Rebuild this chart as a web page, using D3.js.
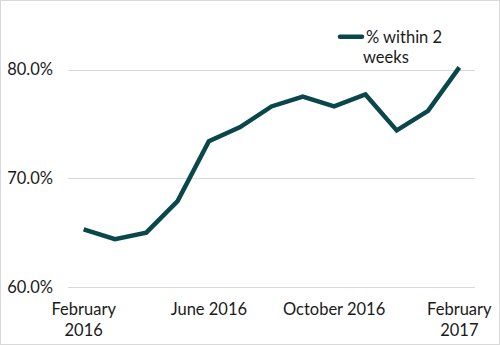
<!DOCTYPE html>
<html><head><meta charset="utf-8">
<script src="https://cdn.jsdelivr.net/npm/d3@7"></script>
<style>
body{margin:0;background:#fff;}
svg{display:block;font-family:Lato,"Open Sans",sans-serif;}
</style></head>
<body>
<svg id="chart" width="500" height="345"></svg>
<script>
const months = ["Feb 2016","Mar 2016","Apr 2016","May 2016","Jun 2016","Jul 2016","Aug 2016","Sep 2016","Oct 2016","Nov 2016","Dec 2016","Jan 2017","Feb 2017"];
const values = [65.3, 64.4, 65.0, 67.9, 73.4, 74.7, 76.6, 77.5, 76.6, 77.7, 74.4, 76.2, 80.2];
const yTicks = [60, 70, 80];
const xTickLabels = [["February","2016"],null,null,null,["June 2016"],null,null,null,["October 2016"],null,null,null,["February","2017"]];
const seriesName = ["% within 2", "weeks"];

const svg = d3.select("#chart");
const W = 500, H = 345;
const color = "#0a474b";

svg.append("rect").attr("x",0.5).attr("y",0.5).attr("width",W-1).attr("height",H-1)
  .attr("fill","#fff").attr("stroke","#d9d9d9");

const x = d3.scaleBand().domain(months).range([68, 475]);
const y = d3.scaleLinear().domain([60, 80]).range([287, 69.5]);

// gridlines
svg.append("g").selectAll("line").data(yTicks).join("line")
  .attr("x1",68).attr("x2",475)
  .attr("y1",d=>Math.round(y(d))+0.5).attr("y2",d=>Math.round(y(d))+0.5)
  .attr("stroke","#d9d9d9").attr("stroke-width",1);

// y labels
svg.append("g").selectAll("text").data(yTicks).join("text")
  .attr("x",53).attr("y",d=>y(d)).attr("dy","0.36em")
  .attr("text-anchor","end").attr("font-size",16.5).attr("fill","#1a1a1a")
  .text(d=>d3.format(".1f")(d)+"%");

// x labels
const xl = svg.append("g");
months.forEach((m,i)=>{
  const lab = xTickLabels[i];
  if(!lab) return;
  const t = xl.append("text").attr("text-anchor","middle").attr("font-size",16.5).attr("fill","#1a1a1a")
    .attr("x", x(m)+x.bandwidth()/2).attr("y",315);
  lab.forEach((s,j)=>t.append("tspan").attr("x",x(m)+x.bandwidth()/2).attr("dy",j?21:0).text(s));
});

// line
const line = d3.line().x((d,i)=>x(months[i])+x.bandwidth()/2).y(d=>y(d));
svg.append("path").datum(values).attr("d",line)
  .attr("fill","none").attr("stroke",color).attr("stroke-width",4.5)
  .attr("stroke-linejoin","miter").attr("stroke-linecap","butt");

// legend
const lg = svg.append("g");
lg.append("line").attr("x1",340).attr("x2",362).attr("y1",36.7).attr("y2",36.7)
  .attr("stroke",color).attr("stroke-width",4.5).attr("stroke-linecap","round");
const lt = lg.append("text").attr("font-size",16.5).attr("fill","#1a1a1a").attr("y",43);
lt.append("tspan").attr("x",366).text(seriesName[0]);
lt.append("tspan").attr("x",363).attr("dy",19.5).text(seriesName[1]);
</script>
</body></html>
